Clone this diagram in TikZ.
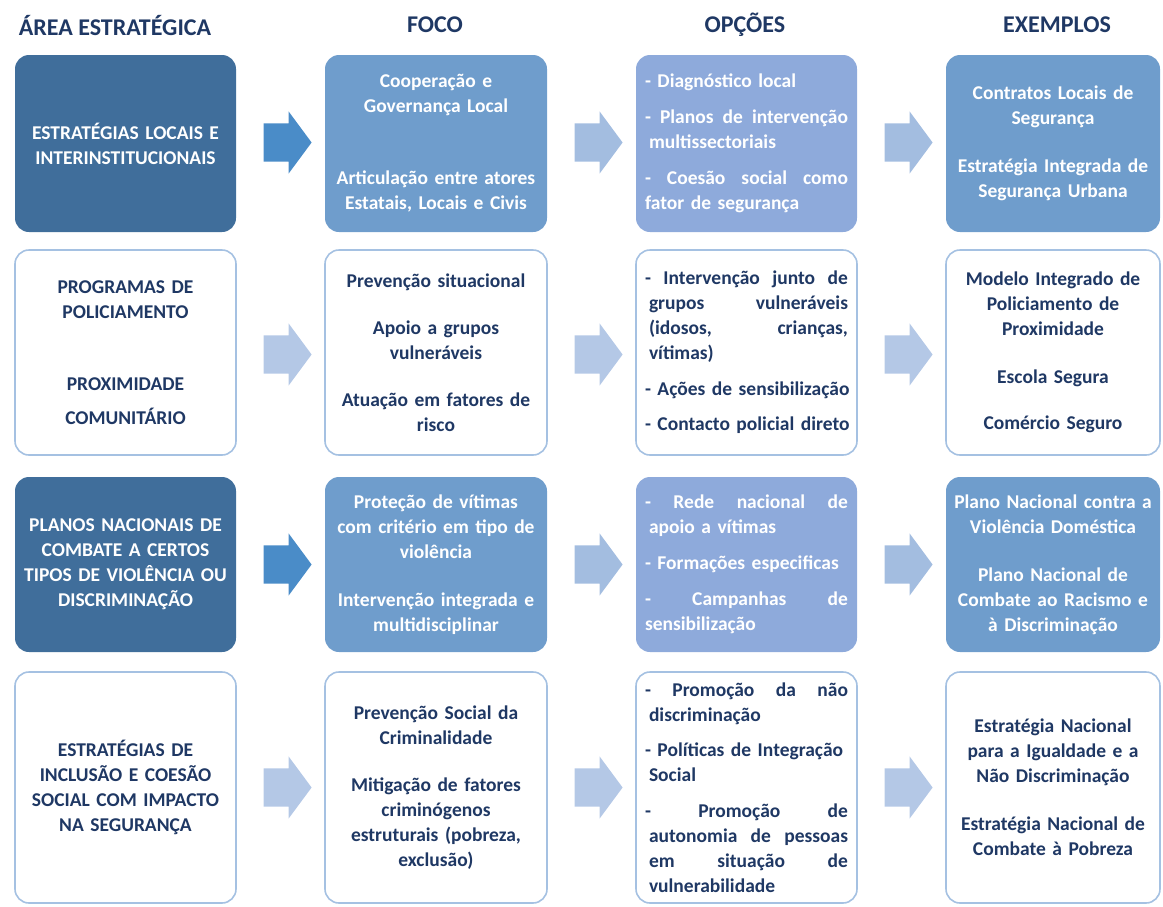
\documentclass[tikz,border=0pt]{standalone}
\usepackage{fontspec}
\setmainfont{Carlito}
\usepackage{xcolor}
\usetikzlibrary{shapes.arrows, calc}

\definecolor{navy}{RGB}{31,56,100}
\definecolor{areadark}{RGB}{64,110,155}
\definecolor{focomid}{RGB}{111,157,204}
\definecolor{opclav}{RGB}{142,170,219}
\definecolor{boxline}{RGB}{165,193,226}
\definecolor{setadark}{RGB}{74,140,200}
\definecolor{setamid}{RGB}{163,189,224}
\definecolor{setalight}{RGB}{180,200,230}

\newcommand{\ind}{\hspace*{4pt}}
\newcommand{\nohyph}{\hyphenpenalty=10000\relax\exhyphenpenalty=10000\relax}

\begin{document}
\begin{tikzpicture}[x=1pt, y=-1pt,
  cell/.style={rectangle, rounded corners=14pt, align=center, text width=205pt,
    inner sep=4pt, font=\fontsize{19.5}{25}\selectfont\bfseries,
    execute at begin node=\nohyph},
  darkbox/.style={cell, fill=areadark, text=white},
  midbox/.style={cell, fill=focomid, text=white},
  lavbox/.style={cell, fill=opclav, text=white, align=left, text width=203pt,
    inner xsep=9pt},
  whitebox/.style={cell, fill=white, draw=boxline, line width=1.6pt, text=navy},
  whiteopt/.style={whitebox, align=left, text width=203pt, inner xsep=9pt},
  head/.style={text=navy, font=\fontsize{24}{28}\selectfont\bfseries},
  seta/.style={single arrow, draw=none, inner xsep=0pt, inner ysep=19pt,
    minimum height=48pt, single arrow head extend=12pt, single arrow tip angle=107},
  setad/.style={seta, fill=setadark},
  setam/.style={seta, fill=setamid},
  setal/.style={seta, fill=setalight}
]
  \useasboundingbox (0,0) rectangle (1163,906);

  % headers
  \node[head] (h1) at (115, 25) {ÁREA ESTRATÉGICA};
  \node[head] (h2) at (435, 25) {FOCO};
  \node[head] (h3) at (745, 25) {OPÇÕES};
  \node[head] (h4) at (1057, 25) {EXEMPLOS};

  % row 1
  \node[darkbox, minimum width=221pt, minimum height=177pt] (area1) at (125.5, 143.5)
    {ESTRATÉGIAS LOCAIS E\\INTERINSTITUCIONAIS};
  \node[midbox, minimum width=222pt, minimum height=177pt] (foco1) at (436, 143.5)
    {Cooperação e\\Governança Local\\[47pt]Articulação entre atores\\Estatais, Locais e Civis};
  \node[lavbox, minimum width=221pt, minimum height=177pt] (opc1) at (746.5, 143.5)
    {- Diagnóstico local\\[11pt]
     -\hfill Planos\hfill de\hfill intervenção\\\ind multissectoriais\\[11pt]
     -\hfill Coesão\hfill social\hfill como\\fator de segurança};
  \node[midbox, minimum width=214pt, minimum height=177pt] (ex1) at (1053, 143.5)
    {Contratos Locais de\\Segurança\\[23pt]Estratégia Integrada de\\Segurança Urbana};

  % row 2
  \node[whitebox, minimum width=221pt, minimum height=205pt] (area2) at (125.5, 352.5)
    {PROGRAMAS DE\\POLICIAMENTO\\[47pt]PROXIMIDADE\\[9pt]COMUNITÁRIO};
  \node[whitebox, minimum width=222pt, minimum height=205pt] (foco2) at (436, 352.5)
    {Prevenção situacional\\[22pt]Apoio a grupos\\vulneráveis\\[22pt]Atuação em fatores de\\risco};
  \node[whiteopt, minimum width=221pt, minimum height=205pt] (opc2) at (746.5, 352.5)
    {-\hfill Intervenção\hfill junto\hfill de\\\ind grupos\hfill vulneráveis\\
     \ind (idosos,\hfill crianças,\\\ind vítimas)\\[11pt]
     \mbox{- Ações de sensibilização}\\[10pt]\mbox{- Contacto policial direto}};
  \node[whitebox, minimum width=214pt, minimum height=205pt] (ex2) at (1053, 352.5)
    {Modelo Integrado de\\Policiamento de\\Proximidade\\[23pt]Escola Segura\\[21pt]Comércio Seguro};

  % row 3
  \node[darkbox, minimum width=221pt, minimum height=175pt] (area3) at (125.5, 564.5)
    {PLANOS NACIONAIS DE\\COMBATE A CERTOS\\TIPOS DE VIOLÊNCIA OU\\DISCRIMINAÇÃO};
  \node[midbox, minimum width=222pt, minimum height=175pt] (foco3) at (436, 564.5)
    {Proteção de vítimas\\com critério em tipo de\\violência\\[23pt]Intervenção integrada e\\multidisciplinar};
  \node[lavbox, minimum width=221pt, minimum height=175pt] (opc3) at (746.5, 564.5)
    {-\hfill Rede\hfill nacional\hfill de\\\ind apoio a vítimas\\[11pt]
     \mbox{- Formações especificas}\\[11pt]
     -\hfill Campanhas\hfill de\\sensibilização};
  \node[midbox, minimum width=214pt, minimum height=175pt] (ex3) at (1053, 564.5)
    {Plano Nacional contra a\\Violência Doméstica\\[23pt]Plano Nacional de\\Combate ao Racismo e\\à Discriminação};

  % row 4
  \node[whitebox, minimum width=221pt, minimum height=231pt] (area4) at (125.5, 787.5)
    {ESTRATÉGIAS DE\\INCLUSÃO E COESÃO\\SOCIAL COM IMPACTO\\NA SEGURANÇA};
  \node[whitebox, minimum width=222pt, minimum height=231pt] (foco4) at (436, 787.5)
    {Prevenção Social da\\Criminalidade\\[22pt]Mitigação de fatores\\criminógenos\\estruturais (pobreza,\\exclusão)};
  \node[whiteopt, minimum width=221pt, minimum height=231pt] (opc4) at (746.5, 787.5)
    {-\hfill Promoção\hfill da\hfill não\\\ind discriminação\\[10pt]
     \mbox{- Políticas de Integração}\\\ind Social\\[11pt]
     -\hfill Promoção\hfill de\\\ind autonomia\hfill de\hfill pessoas\\
     \ind em\hfill situação\hfill de\\\ind vulnerabilidade};
  \node[whitebox, minimum width=214pt, minimum height=231pt] (ex4) at (1053, 787.5)
    {Estratégia Nacional\\para a Igualdade e a\\Não Discriminação\\[23pt]Estratégia Nacional de\\Combate à Pobreza};

  % arrows between the columns
  \node[setad] (seta11) at ($(area1.east)!0.5!(foco1.west)+(0,-1)$) {};
  \node[setam] (seta12) at ($(foco1.east)!0.5!(opc1.west)+(0,-1)$) {};
  \node[setam] (seta13) at ($(opc1.east)!0.5!(ex1.west)+(0,-1)$) {};
  \node[setal] (seta21) at ($(area2.east)!0.5!(foco2.west)+(0,2)$) {};
  \node[setal] (seta22) at ($(foco2.east)!0.5!(opc2.west)+(0,2)$) {};
  \node[setal] (seta23) at ($(opc2.east)!0.5!(ex2.west)+(0,2)$) {};
  \node[setad] (seta31) at ($(area3.east)!0.5!(foco3.west)$) {};
  \node[setam] (seta32) at ($(foco3.east)!0.5!(opc3.west)$) {};
  \node[setam] (seta33) at ($(opc3.east)!0.5!(ex3.west)$) {};
  \node[setal] (seta41) at ($(area4.east)!0.5!(foco4.west)$) {};
  \node[setal] (seta42) at ($(foco4.east)!0.5!(opc4.west)$) {};
  \node[setal] (seta43) at ($(opc4.east)!0.5!(ex4.west)$) {};
\end{tikzpicture}
\end{document}
